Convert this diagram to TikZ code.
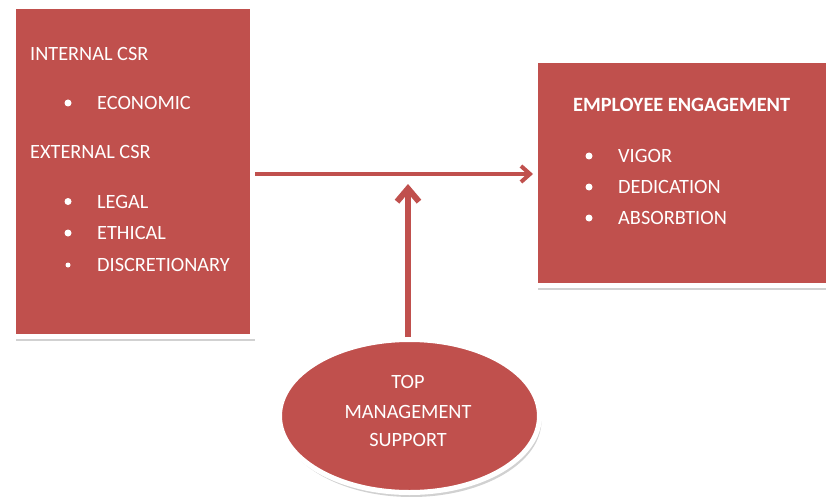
\documentclass[tikz,border=0pt]{standalone}
\usepackage{fontspec}
\setmainfont{Carlito}
\usetikzlibrary{arrows.meta,shapes.geometric,shadows}
\definecolor{csrred}{HTML}{C0504D}
\tikzset{
  panel/.style={rectangle, fill=csrred, draw=white, line width=5pt, inner sep=0pt,
    drop shadow={opacity=0.3, fill=black!60, shadow xshift=2pt, shadow yshift=-4.5pt}},
  txt/.style={anchor=base west, inner sep=0pt, text=white, font=\fontsize{20.3}{24}\selectfont},
  ctxt/.style={anchor=base, inner sep=0pt, text=white, font=\fontsize{20.3}{24}\selectfont},
  bul/.style={circle, fill=white, inner sep=0pt, minimum size=7pt},
  smallbul/.style={circle, fill=white, inner sep=0pt, minimum size=5pt},
  arr/.style={draw=csrred, line width=4pt, -{Straight Barb[length=9pt,width=16pt]}},
  varr/.style={draw=csrred, line width=6pt, -{Straight Barb[length=13pt,width=22pt]}}
}
\begin{document}
\begin{tikzpicture}[x=1pt,y=-1pt]
\useasboundingbox (0,0) rectangle (826,497);
% panels
\node[panel, minimum width=239pt, minimum height=330pt] (left) at (133,171.5) {};
\node[panel, minimum width=293pt, minimum height=225pt] (right) at (682,173) {};
\node[panel, ellipse, minimum width=260pt, minimum height=153pt] (ell) at (409.5,416) {};
% left text
\node[txt] (int) at (30,60.5) {INTERNAL CSR};
\node[bul] (b1) at (68,103) {};
\node[txt] (eco) at (97,109.5) {ECONOMIC};
\node[txt] (ext) at (30,158.5) {EXTERNAL CSR};
\node[bul] (b2) at (68,201.5) {};
\node[txt] (leg) at (97,208) {LEGAL};
\node[bul] (b3) at (68,233) {};
\node[txt] (eth) at (97,239.5) {ETHICAL};
\node[smallbul] (b4) at (68,265) {};
\node[txt] (dis) at (97,271.5) {DISCRETIONARY};
% right text
\node[txt, font=\fontsize{20.3}{24}\selectfont\bfseries] (emp) at (573,111.5) {EMPLOYEE ENGAGEMENT};
\node[bul] (b5) at (589,156) {};
\node[txt] (vig) at (618,162.5) {VIGOR};
\node[bul] (b6) at (589,187) {};
\node[txt] (ded) at (618,193.5) {DEDICATION};
\node[bul] (b7) at (589,218) {};
\node[txt] (abs) at (618,224.5) {ABSORBTION};
% ellipse text
\node[ctxt] (top) at (408,388.5) {TOP};
\node[ctxt] (man) at (408,418.5) {MANAGEMENT};
\node[ctxt] (sup) at (408,446.5) {SUPPORT};
% connectors
\coordinate (meet) at (408,184);
\draw[arr] (left.east |- 0,174) -- (right.west |- 0,174);
\draw[varr] (ell.north -| meet) -- (meet);
\end{tikzpicture}
\end{document}
